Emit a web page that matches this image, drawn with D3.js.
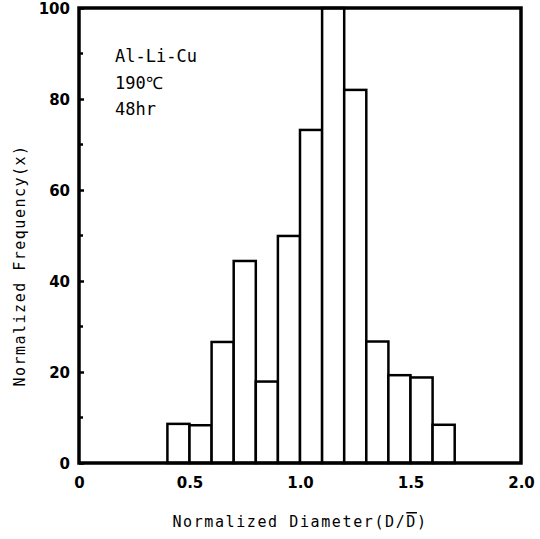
<!DOCTYPE html>
<html><head><meta charset="utf-8">
<script src="https://cdn.jsdelivr.net/npm/d3@7"></script>
<style>body{margin:0;background:#fff}svg{display:block}</style>
</head><body>
<script>
const binStarts = [0.4,0.5,0.6,0.7,0.8,0.9,1.0,1.1,1.2,1.3,1.4,1.5,1.6];
const binWidth = 0.1;
const frequencies = [8.6,8.3,26.6,44.4,17.9,49.9,73.2,100,82,26.7,19.3,18.8,8.4];
const yMajorTicks = [0,20,40,60,80,100];
const yMinorTicks = [10,30,50,70,90];
const xTicks = [0,0.5,1.0,1.5,2.0];
const xTickLabels = ["0","0.5","1.0","1.5","2.0"];
const annotations = ["Al-Li-Cu","190\u2103","48hr"];

const W=540,H=539;
const svg=d3.select("body").append("svg").attr("width",W).attr("height",H);
const x=d3.scaleLinear().domain([0,2]).range([79,521]);
const y=d3.scaleLinear().domain([0,100]).range([463,8]);

// bars
svg.append("g").selectAll("rect").data(binStarts).join("rect")
  .attr("x",d=>x(d)).attr("width",d=>x(d+binWidth)-x(d))
  .attr("y",(d,i)=>y(frequencies[i])).attr("height",(d,i)=>y(0)-y(frequencies[i]))
  .attr("fill","#fff").attr("stroke","#000").attr("stroke-width",2.5);

// frame
svg.append("rect").attr("x",x(0)).attr("y",y(100)).attr("width",x(2)-x(0)).attr("height",y(0)-y(100))
  .attr("fill","none").attr("stroke","#000").attr("stroke-width",3.5);

// y axis ticks inward
const yAxis=d3.axisLeft(y).tickValues(yMajorTicks).tickSize(-5).tickPadding(9).tickFormat(d3.format("d"));
const gy=svg.append("g").attr("transform",`translate(${x(0)},0)`).call(yAxis);
gy.select(".domain").remove();
gy.selectAll("line").attr("stroke-width",2.5);
gy.selectAll("text").attr("font-family","DejaVu Sans").attr("font-weight","bold").attr("font-size",15).attr("fill","#000").attr("dy","0.36em");
svg.append("g").selectAll("line").data(yMinorTicks).join("line")
  .attr("x1",x(0)).attr("x2",x(0)+4).attr("y1",d=>y(d)).attr("y2",d=>y(d))
  .attr("stroke","#000").attr("stroke-width",2.5);

// x axis labels
const xAxis=d3.axisBottom(x).tickValues(xTicks).tickSize(0).tickPadding(14).tickFormat((d,i)=>xTickLabels[i]);
const gx=svg.append("g").attr("transform",`translate(0,${y(0)})`).call(xAxis);
gx.select(".domain").remove();
gx.selectAll("text").attr("font-family","DejaVu Sans").attr("font-weight","bold").attr("font-size",15).attr("fill","#000");

// axis titles
svg.append("text").attr("x",(x(0)+x(2))/2).attr("y",527).attr("text-anchor","middle")
  .attr("font-family","DejaVu Sans Mono").attr("font-size",15).attr("letter-spacing",1.6)
  .text("Normalized Diameter(D\u0304)").text(null)
  .call(t=>{t.append("tspan").text("Normalized Diameter(D/");
            t.append("tspan").attr("text-decoration","overline").text("D");
            t.append("tspan").text(")");});
svg.append("text").attr("transform",`translate(25,${(y(0)+y(100))/2+30}) rotate(-90)`).attr("text-anchor","middle")
  .attr("font-family","DejaVu Sans Mono").attr("font-size",15).attr("letter-spacing",1.5)
  .text("Normalized Frequency(x)");

// annotations
svg.append("g").selectAll("text").data(annotations).join("text")
  .attr("x",115).attr("y",(d,i)=>62+i*26.5)
  .attr("font-family","DejaVu Sans Mono").attr("font-size",17)
  .text(d=>d);
</script>
</body></html>
